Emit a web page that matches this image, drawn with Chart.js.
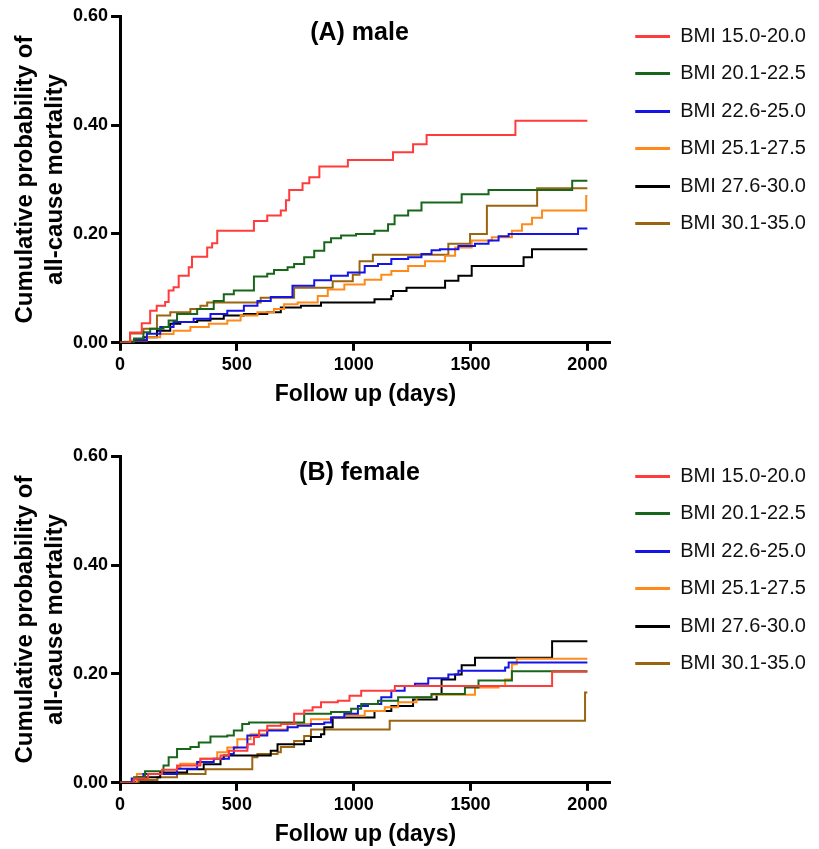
<!DOCTYPE html>
<html>
<head>
<meta charset="utf-8">
<script src="https://cdn.jsdelivr.net/npm/chart.js@4.4.1/dist/chart.umd.min.js"></script>
<style>
  html, body { margin: 0; padding: 0; background: #fff; overflow: hidden; }
  .panel { width: 819px; height: 440px; position: relative; }
</style>
</head>
<body>
<div class="panel"><canvas id="male_chart" width="819" height="440"></canvas></div>
<div class="panel"><canvas id="female_chart" width="819" height="440"></canvas></div>
<script>
// BMI groups and their line colours
const bmiGroups = ["BMI 15.0-20.0", "BMI 20.1-22.5", "BMI 22.6-25.0", "BMI 25.1-27.5", "BMI 27.6-30.0", "BMI 30.1-35.0"];
const groupColors = ["#ff3b3b", "#17661a", "#1414e6", "#ff8a1a", "#000000", "#9a6410"];

const xTicks = [0, 500, 1000, 1500, 2000];
const yTicks = [0, 0.2, 0.4, 0.6];

// (A) male - [day, cumulative probability]
const male_15_20 = [[0,0],[43,0.019],[93,0.036],[129,0.059],[157,0.068],[193,0.075],[208,0.096],[229,0.102],[251,0.123],[294,0.139],[308,0.158],[373,0.175],[394,0.183],[416,0.206],[573,0.224],[630,0.234],[688,0.243],[710,0.262],[724,0.281],[781,0.293],[810,0.304],[853,0.324],[975,0.336],[1168,0.350],[1254,0.365],[1312,0.382],[1692,0.408],[2000,0.408]];
const male_20_22 = [[0,0],[60,0.008],[100,0.0195],[129,0.026],[186,0.029],[208,0.041],[244,0.053],[330,0.062],[401,0.077],[444,0.089],[487,0.096],[573,0.122],[630,0.127],[659,0.134],[717,0.139],[745,0.145],[788,0.157],[831,0.169],[874,0.185],[903,0.192],[946,0.197],[1010,0.200],[1089,0.206],[1147,0.218],[1175,0.234],[1233,0.243],[1290,0.258],[1462,0.273],[1577,0.281],[1935,0.298],[2000,0.298]];
const male_22_25 = [[0,0],[60,0.005],[115,0.0165],[172,0.029],[229,0.038],[315,0.044],[387,0.053],[459,0.059],[530,0.068],[588,0.077],[645,0.084],[738,0.105],[831,0.115],[903,0.123],[975,0.129],[1047,0.141],[1104,0.145],[1161,0.154],[1233,0.157],[1290,0.163],[1333,0.170],[1369,0.172],[1448,0.178],[1519,0.182],[1577,0.188],[1620,0.196],[1663,0.200],[1960,0.210],[2000,0.210]];
const male_25_27 = [[0,0],[43,0.004],[115,0.010],[172,0.016],[229,0.022],[301,0.029],[380,0.035],[459,0.041],[516,0.050],[588,0.056],[659,0.062],[702,0.071],[760,0.074],[846,0.086],[889,0.098],[960,0.107],[1047,0.116],[1118,0.125],[1161,0.132],[1233,0.141],[1305,0.150],[1391,0.160],[1434,0.175],[1505,0.188],[1591,0.194],[1677,0.206],[1720,0.218],[1763,0.230],[1806,0.243],[1995,0.270],[2000,0.270]];
const male_27_30 = [[0,0],[43,0.001],[100,0.010],[158,0.022],[215,0.035],[258,0.038],[330,0.041],[387,0.044],[444,0.050],[530,0.053],[630,0.056],[688,0.065],[774,0.068],[860,0.074],[1089,0.080],[1161,0.086],[1168,0.095],[1226,0.101],[1391,0.114],[1448,0.123],[1505,0.141],[1727,0.157],[1763,0.172],[2000,0.172]];
const male_30_35 = [[0,0],[21,0.002],[43,0.017],[100,0.026],[158,0.050],[215,0.056],[301,0.062],[344,0.068],[373,0.074],[602,0.083],[745,0.101],[910,0.113],[996,0.125],[1025,0.150],[1082,0.162],[1405,0.182],[1498,0.200],[1570,0.252],[1785,0.284],[2000,0.284]];

// (B) female - [day, cumulative probability]
const female_15_20 = [[0,0],[60,0.008],[120,0.016],[180,0.024],[244,0.032],[344,0.044],[430,0.050],[466,0.059],[545,0.071],[573,0.084],[595,0.096],[630,0.105],[688,0.108],[745,0.127],[788,0.133],[824,0.139],[860,0.148],[932,0.151],[982,0.160],[1032,0.169],[1176,0.178],[1849,0.204],[2000,0.204]];
const female_20_22 = [[0,0],[60,0.010],[107,0.021],[186,0.032],[208,0.047],[244,0.062],[301,0.066],[337,0.074],[387,0.085],[459,0.087],[487,0.096],[523,0.108],[552,0.111],[788,0.127],[903,0.130],[989,0.136],[1032,0.145],[1104,0.151],[1190,0.157],[1333,0.163],[1476,0.175],[1534,0.188],[1677,0.205],[2000,0.205]];
const female_22_25 = [[0,0],[50,0.008],[100,0.016],[244,0.026],[330,0.038],[401,0.044],[466,0.053],[487,0.065],[545,0.087],[630,0.096],[717,0.102],[760,0.105],[817,0.108],[874,0.111],[903,0.120],[960,0.127],[1018,0.141],[1061,0.145],[1118,0.157],[1161,0.169],[1218,0.178],[1262,0.182],[1319,0.192],[1405,0.199],[1448,0.206],[1648,0.212],[1663,0.221],[2000,0.221]];
const female_25_27 = [[0,0],[72,0.016],[244,0.029],[258,0.035],[344,0.044],[416,0.056],[459,0.065],[502,0.080],[559,0.089],[630,0.098],[717,0.108],[817,0.117],[903,0.120],[960,0.123],[1047,0.132],[1133,0.139],[1190,0.148],[1269,0.157],[1333,0.162],[1519,0.175],[1620,0.178],[1648,0.190],[1677,0.218],[1698,0.228],[2000,0.228]];
const female_27_30 = [[0,0],[72,0.010],[172,0.019],[287,0.025],[358,0.034],[430,0.044],[444,0.050],[645,0.059],[674,0.071],[788,0.077],[817,0.084],[860,0.089],[874,0.102],[910,0.120],[1089,0.132],[1161,0.141],[1254,0.153],[1355,0.163],[1376,0.190],[1434,0.199],[1462,0.216],[1519,0.230],[1849,0.260],[2000,0.260]];
const female_30_35 = [[0,0],[80,0.005],[160,0.010],[244,0.016],[366,0.025],[566,0.047],[588,0.053],[674,0.056],[688,0.066],[745,0.077],[788,0.086],[817,0.098],[1154,0.114],[1990,0.166],[2000,0.166]];

const maleSeries = [male_15_20, male_20_22, male_22_25, male_25_27, male_27_30, male_30_35];
const femaleSeries = [female_15_20, female_20_22, female_22_25, female_25_27, female_27_30, female_30_35];

const FONT = "'Liberation Sans', Arial, Helvetica, sans-serif";

// legend swatch: a short line with some empty space on its left
function lineSwatch(color) {
    const c = document.createElement('canvas');
    c.width = 42;
    c.height = 3;
    const g = c.getContext('2d');
    g.fillStyle = color;
    g.fillRect(7, 0, 35, 3);
    return c;
}
const swatches = groupColors.map(lineSwatch);

// draws the "(A) male" / "(B) female" caption inside the plot area
const panelTitle = {
    id: 'panelTitle',
    afterDraw(chart, args, opts) {
        const {ctx, chartArea} = chart;
        ctx.save();
        ctx.font = "bold 25px " + FONT;
        ctx.fillStyle = "#000";
        ctx.textAlign = "center";
        ctx.textBaseline = "middle";
        ctx.fillText(opts.text, chartArea.left + chartArea.width * 0.488, chartArea.top + 17);
        ctx.restore();
    }
};

function makeChart(canvasId, caption, series) {
    const datasets = series.map((pts, i) => ({
        label: bmiGroups[i],
        data: pts.map(p => ({x: p[0], y: p[1]})),
        borderColor: groupColors[i],
        backgroundColor: groupColors[i],
        borderWidth: 2,
        pointRadius: 0,
        pointStyle: swatches[i],
        stepped: 'before',
        fill: false
    }));

    return new Chart(document.getElementById(canvasId), {
        type: 'line',
        data: { datasets: datasets },
        plugins: [panelTitle],
        options: {
            responsive: false,
            animation: false,
            layout: { padding: { top: 8.5, left: 7, right: 7, bottom: 28 } },
            plugins: {
                panelTitle: { text: caption },
                tooltip: { enabled: false },
                legend: {
                    position: 'right',
                    align: 'start',
                    labels: {
                        usePointStyle: true,
                        pointStyleWidth: 42,
                        padding: 17.5,
                        color: '#111',
                        font: { family: FONT, size: 20 }
                    }
                }
            },
            scales: {
                x: {
                    type: 'linear',
                    min: 0,
                    max: 2100,
                    afterBuildTicks: s => { s.ticks = xTicks.map(v => ({value: v})); },
                    grid: { drawOnChartArea: false, drawTicks: true, tickLength: 8, tickWidth: 3, color: '#000' },
                    border: { color: '#000', width: 3 },
                    ticks: {
                        color: '#000',
                        padding: 3,
                        font: { family: FONT, size: 18, weight: 'bold' },
                        callback: v => String(v)
                    },
                    title: {
                        display: true,
                        text: 'Follow up (days)',
                        color: '#000',
                        padding: { top: 2, bottom: 4 },
                        font: { family: FONT, size: 23, weight: 'bold' }
                    }
                },
                y: {
                    min: 0,
                    max: 0.6,
                    afterBuildTicks: s => { s.ticks = yTicks.map(v => ({value: v})); },
                    afterFit: s => { s.paddingTop = s.paddingTop + 2.5; },
                    grid: { drawOnChartArea: false, drawTicks: true, tickLength: 9, tickWidth: 3, color: '#000' },
                    border: { color: '#000', width: 3 },
                    ticks: {
                        color: '#000',
                        padding: 3,
                        font: { family: FONT, size: 18, weight: 'bold' },
                        callback: v => Number(v).toFixed(2)
                    },
                    title: {
                        display: true,
                        text: ['Cumulative probability of', 'all-cause mortality'],
                        color: '#000',
                        padding: { top: 3, bottom: 0 },
                        font: { family: FONT, size: 24, weight: 'bold', lineHeight: 1.25 }
                    }
                }
            }
        }
    });
}

makeChart('male_chart', '(A) male', maleSeries);
makeChart('female_chart', '(B) female', femaleSeries);
</script>
</body>
</html>
